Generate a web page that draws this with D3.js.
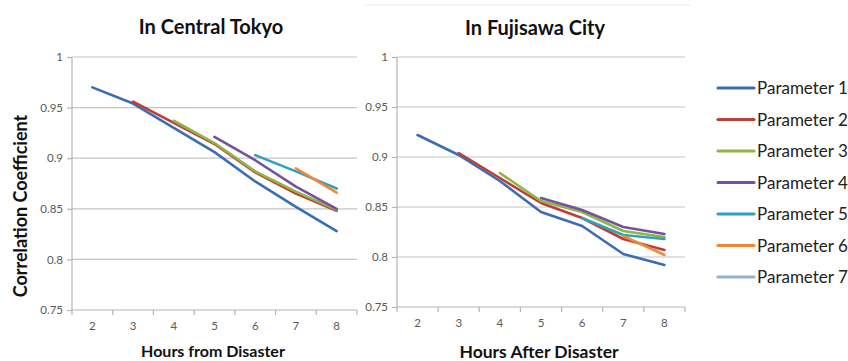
<!DOCTYPE html>
<html>
<head>
<meta charset="utf-8">
<script src="https://cdn.jsdelivr.net/npm/d3@7"></script>
<style>
  html, body { margin: 0; padding: 0; background: #fff; }
  svg { display: block; }
</style>
</head>
<body>
<svg id="chart" width="848" height="361"></svg>
<script>
// ---- data ----
const hours = ["2", "3", "4", "5", "6", "7", "8"];
const yTicks = [0.75, 0.8, 0.85, 0.9, 0.95, 1];
const yTickLabels = ["0.75", "0.8", "0.85", "0.9", "0.95", "1"];
const seriesNames = ["Parameter 1", "Parameter 2", "Parameter 3", "Parameter 4", "Parameter 5", "Parameter 6", "Parameter 7"];
const seriesColors = ["#3b6db5", "#be3d3a", "#8fb545", "#7352a0", "#2fa2bd", "#f0873a", "#94afd8"];

// In Central Tokyo
const tokyoP1 = [0.970, 0.954, 0.930, 0.906, 0.877, 0.852, 0.828];
const tokyoP2 = [null, 0.956, 0.935, 0.914, 0.886, 0.865, 0.848];
const tokyoP3 = [null, null, 0.937, 0.915, 0.887, 0.867, 0.849];
const tokyoP4 = [null, null, null, 0.921, 0.898, 0.872, 0.850];
const tokyoP5 = [null, null, null, null, 0.903, 0.887, 0.870];
const tokyoP6 = [null, null, null, null, null, 0.890, 0.866];
const tokyoP7 = [null, null, null, null, null, null, null];

// In Fujisawa City
const fujiP1 = [0.922, 0.902, 0.876, 0.845, 0.831, 0.803, 0.792];
const fujiP2 = [null, 0.904, 0.879, 0.854, 0.839, 0.818, 0.807];
const fujiP3 = [null, null, 0.884, 0.856, 0.845, 0.826, 0.820];
const fujiP4 = [null, null, null, 0.859, 0.847, 0.830, 0.823];
const fujiP5 = [null, null, null, null, 0.839, 0.822, 0.818];
const fujiP6 = [null, null, null, null, null, 0.821, 0.802];
const fujiP7 = [null, null, null, null, null, null, null];

const tokyoSeries = [tokyoP1, tokyoP2, tokyoP3, tokyoP4, tokyoP5, tokyoP6, tokyoP7];
const fujiSeries = [fujiP1, fujiP2, fujiP3, fujiP4, fujiP5, fujiP6, fujiP7];

// ---- drawing ----
const svg = d3.select("#chart");
const font = "Lato, 'Open Sans', sans-serif";

function panel(opts) {
  const x = d3.scaleBand().domain(hours).range([opts.x0, opts.x1]).padding(0);
  const y = d3.scaleLinear().domain([0.75, 1]).range([opts.yBottom, opts.yTop]);
  const g = svg.append("g");

  // gridlines
  g.selectAll("line.grid").data(yTicks.slice(1)).enter().append("line")
    .attr("x1", opts.x0).attr("x2", opts.x1)
    .attr("y1", d => y(d)).attr("y2", d => y(d))
    .attr("stroke", "#c4c4c4").attr("stroke-width", 1.2);

  // y axis
  const yAxis = d3.axisLeft(y).tickValues(yTicks)
    .tickFormat((d, i) => yTickLabels[i]).tickSize(5).tickPadding(4);
  const ya = g.append("g").attr("transform", `translate(${opts.x0},0)`).call(yAxis);
  ya.select(".domain").attr("stroke", "#b4b4b4").attr("stroke-width", 1.2).attr("d", `M0,${opts.yTop}V${opts.yBottom}`);
  ya.selectAll(".tick line").attr("stroke", "#b4b4b4").attr("stroke-width", 1.2);
  ya.selectAll(".tick text").attr("fill", "#595959").style("font-family", font).style("font-size", "11.5px");

  // x axis
  const xa = g.append("g").attr("transform", `translate(0,${opts.yBottom})`);
  xa.append("line").attr("x1", opts.x0).attr("x2", opts.x1).attr("y1", 0).attr("y2", 0)
    .attr("stroke", "#b4b4b4").attr("stroke-width", 1.2);
  const edges = hours.map(h => x(h)).concat([x(hours[hours.length - 1]) + x.bandwidth()]);
  xa.selectAll("line.tk").data(edges).enter().append("line")
    .attr("x1", d => d).attr("x2", d => d).attr("y1", 0).attr("y2", 5)
    .attr("stroke", "#b4b4b4").attr("stroke-width", 1.2);
  xa.selectAll("text").data(hours).enter().append("text")
    .attr("x", d => x(d) + x.bandwidth() / 2).attr("y", 20)
    .attr("text-anchor", "middle").attr("fill", "#595959")
    .style("font-family", font).style("font-size", "11.5px").text(d => d);

  // lines
  const line = d3.line()
    .defined(d => d.v != null)
    .x(d => x(d.h) + x.bandwidth() / 2)
    .y(d => y(d.v));
  opts.series.forEach((s, i) => {
    const pts = hours.map((h, j) => ({ h: h, v: s[j] }));
    g.append("path").datum(pts).attr("d", line)
      .attr("fill", "none").attr("stroke", seriesColors[i])
      .attr("stroke-width", 2.6).attr("stroke-linejoin", "round").attr("stroke-linecap", "round");
  });

  // title
  g.append("text").attr("x", opts.titleX).attr("y", opts.titleY)
    .attr("text-anchor", "middle").attr("fill", "#111")
    .style("font-family", font).style("font-weight", "bold").style("font-size", opts.titleSize)
    .text(opts.title);
  // x title
  g.append("text").attr("x", opts.xTitleX).attr("y", opts.xTitleY)
    .attr("text-anchor", "middle").attr("fill", "#111")
    .style("font-family", font).style("font-weight", "bold").style("font-size", opts.xTitleSize)
    .text(opts.xTitle);
}

panel({ x0: 72, x1: 357, yTop: 57, yBottom: 310, series: tokyoSeries,
  title: "In Central Tokyo", titleX: 211, titleY: 34, titleSize: "20px",
  xTitle: "Hours from Disaster", xTitleX: 213, xTitleY: 357, xTitleSize: "16px" });
panel({ x0: 397, x1: 685, yTop: 57, yBottom: 307, series: fujiSeries,
  title: "In Fujisawa City", titleX: 535, titleY: 35, titleSize: "20px",
  xTitle: "Hours After Disaster", xTitleX: 539, xTitleY: 358, xTitleSize: "17.5px" });

// faint top border line of right panel
svg.append("line").attr("x1", 365).attr("x2", 690).attr("y1", 5).attr("y2", 5)
  .attr("stroke", "#ececec").attr("stroke-width", 1);

// y axis title
svg.append("text").attr("transform", "translate(27,206) rotate(-90)")
  .attr("text-anchor", "middle").attr("fill", "#111")
  .style("font-family", font).style("font-weight", "bold").style("font-size", "18px")
  .text("Correlation Coefficient");

// legend
const legend = svg.append("g");
seriesNames.forEach((name, i) => {
  const yy = 88 + i * 31.5;
  legend.append("line").attr("x1", 718).attr("x2", 754).attr("y1", yy).attr("y2", yy)
    .attr("stroke", seriesColors[i]).attr("stroke-width", 3.2).attr("stroke-linecap", "round");
  legend.append("text").attr("x", 757).attr("y", yy + 6).attr("fill", "#222")
    .style("font-family", font).style("font-size", "17px").text(name);
});
</script>
</body>
</html>
